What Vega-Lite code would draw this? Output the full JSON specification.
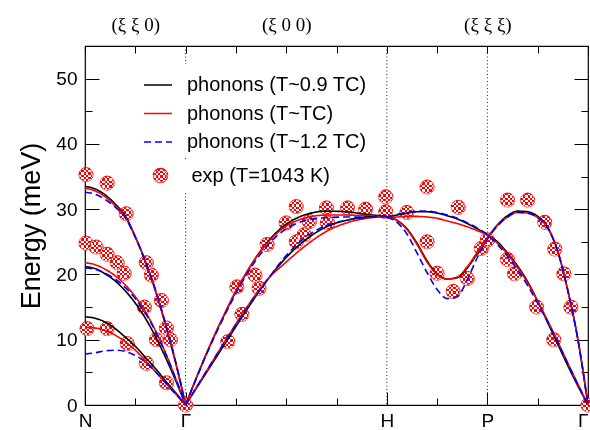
{
"$schema":"https://vega.github.io/schema/vega-lite/v6.json",
"width":503,"height":359,
"autosize":{"type":"none"},
"padding":{"left":85,"top":46,"right":2,"bottom":25},
"background":"white",
"config":{
 "view":{"stroke":"black","strokeWidth":1.2},
 "axis":{"domain":false,"grid":false,"tickColor":"black","tickWidth":1,"labelColor":"black","labelFont":"Liberation Sans","labelFontSize":19,"labelFlush":false,"labelOverlap":false,"titleFont":"Liberation Sans","titleColor":"black"},
 "legend":{"labelFont":"Liberation Sans","labelFontSize":20,"labelColor":"black","labelLimit":400}
},
"resolve":{"scale":{"shape":"independent"},"legend":{"shape":"independent"}},
"datasets":{
"marks":[{"u":1},{"u":3},{"u":4}],
"curves":[
{"br":"NG1","u":0,"k":33.5,"r":33.2,"b":32.6},
{"br":"NG1","u":0.1,"k":33.1,"r":32.8,"b":32.3},
{"br":"NG1","u":0.2,"k":32.2,"r":31.9,"b":31.5},
{"br":"NG1","u":0.3,"k":30.8,"r":30.5,"b":30.3},
{"br":"NG1","u":0.4,"k":29.0,"r":28.8,"b":28.7},
{"br":"NG1","u":0.5,"k":25.8,"r":25.7,"b":25.7},
{"br":"NG1","u":0.6,"k":22.0,"r":22.0,"b":22.0},
{"br":"NG1","u":0.7,"k":17.5,"r":17.6,"b":17.7},
{"br":"NG1","u":0.8,"k":12.3,"r":12.4,"b":12.5},
{"br":"NG1","u":0.9,"k":6.5,"r":6.6,"b":6.7},
{"br":"NG1","u":1,"k":0,"r":0,"b":0},
{"br":"NG2","u":0,"k":21.2,"r":21.8,"b":21.0},
{"br":"NG2","u":0.1,"k":20.9,"r":21.5,"b":20.8},
{"br":"NG2","u":0.2,"k":20.1,"r":20.8,"b":20.2},
{"br":"NG2","u":0.3,"k":19.0,"r":19.8,"b":19.3},
{"br":"NG2","u":0.4,"k":17.5,"r":18.4,"b":18.0},
{"br":"NG2","u":0.5,"k":15.6,"r":16.6,"b":16.3},
{"br":"NG2","u":0.6,"k":13.3,"r":14.3,"b":14.1},
{"br":"NG2","u":0.7,"k":10.5,"r":11.4,"b":11.3},
{"br":"NG2","u":0.8,"k":7.3,"r":8.0,"b":7.9},
{"br":"NG2","u":0.9,"k":3.8,"r":4.1,"b":4.1},
{"br":"NG2","u":1,"k":0,"r":0,"b":0},
{"br":"NG3","u":0,"k":13.5,"r":11.9,"b":7.8},
{"br":"NG3","u":0.1,"k":13.3,"r":11.8,"b":8.0},
{"br":"NG3","u":0.2,"k":12.7,"r":11.4,"b":8.3},
{"br":"NG3","u":0.3,"k":11.7,"r":10.7,"b":8.4},
{"br":"NG3","u":0.4,"k":10.4,"r":9.7,"b":8.2},
{"br":"NG3","u":0.5,"k":9.0,"r":8.4,"b":7.6},
{"br":"NG3","u":0.6,"k":7.3,"r":6.8,"b":6.6},
{"br":"NG3","u":0.7,"k":5.6,"r":5.1,"b":5.1},
{"br":"NG3","u":0.8,"k":3.7,"r":3.4,"b":3.4},
{"br":"NG3","u":0.9,"k":1.9,"r":1.7,"b":1.7},
{"br":"NG3","u":1,"k":0,"r":0,"b":0},
{"br":"GH1","u":1,"k":0,"r":0,"b":0},
{"br":"GH1","u":1.1,"k":3.9,"r":3.9,"b":3.8},
{"br":"GH1","u":1.2,"k":7.6,"r":7.6,"b":7.5},
{"br":"GH1","u":1.3,"k":11.1,"r":11.1,"b":10.9},
{"br":"GH1","u":1.4,"k":14.3,"r":14.4,"b":14.1},
{"br":"GH1","u":1.5,"k":17.4,"r":17.5,"b":17.1},
{"br":"GH1","u":1.6,"k":20.1,"r":20.2,"b":19.8},
{"br":"GH1","u":1.7,"k":22.6,"r":22.6,"b":22.2},
{"br":"GH1","u":1.8,"k":24.7,"r":24.6,"b":24.2},
{"br":"GH1","u":1.9,"k":26.4,"r":26.2,"b":25.8},
{"br":"GH1","u":2.0,"k":27.7,"r":27.4,"b":27.0},
{"br":"GH1","u":2.1,"k":28.6,"r":28.2,"b":27.8},
{"br":"GH1","u":2.2,"k":29.2,"r":28.7,"b":28.3},
{"br":"GH1","u":2.4,"k":29.7,"r":29.1,"b":28.7},
{"br":"GH1","u":2.6,"k":29.6,"r":29.1,"b":28.8},
{"br":"GH1","u":2.8,"k":29.2,"r":29.0,"b":28.8},
{"br":"GH1","u":3.0,"k":28.9,"r":28.8,"b":28.9},
{"br":"GH2","u":1,"k":0,"r":0,"b":0},
{"br":"GH2","u":1.2,"k":4.8,"r":5.0,"b":5.0},
{"br":"GH2","u":1.4,"k":9.6,"r":10.0,"b":9.9},
{"br":"GH2","u":1.6,"k":14.4,"r":14.8,"b":14.6},
{"br":"GH2","u":1.8,"k":18.9,"r":19.0,"b":18.9},
{"br":"GH2","u":2.0,"k":22.6,"r":21.9,"b":22.9},
{"br":"GH2","u":2.2,"k":25.4,"r":24.5,"b":25.8},
{"br":"GH2","u":2.4,"k":27.3,"r":26.6,"b":27.5},
{"br":"GH2","u":2.6,"k":28.3,"r":27.9,"b":28.3},
{"br":"GH2","u":2.8,"k":28.8,"r":28.6,"b":28.7},
{"br":"GH2","u":3.0,"k":28.9,"r":28.9,"b":28.9},
{"br":"HA","u":3.0,"k":28.8,"r":28.7,"b":28.8},
{"br":"HA","u":3.1,"k":29.1,"r":28.8,"b":29.2},
{"br":"HA","u":3.2,"k":29.4,"r":28.9,"b":29.5},
{"br":"HA","u":3.3,"k":29.6,"r":28.9,"b":29.7},
{"br":"HA","u":3.4,"k":29.6,"r":28.8,"b":29.7},
{"br":"HA","u":3.5,"k":29.4,"r":28.6,"b":29.5},
{"br":"HA","u":3.6,"k":29.0,"r":28.2,"b":29.1},
{"br":"HA","u":3.7,"k":28.5,"r":27.8,"b":28.6},
{"br":"HA","u":3.8,"k":27.8,"r":27.3,"b":27.9},
{"br":"HA","u":3.9,"k":27.0,"r":26.7,"b":27.1},
{"br":"HA","u":4.0,"k":26.1,"r":26.0,"b":26.1},
{"br":"HA","u":4.1,"k":25.0,"r":24.8,"b":24.6},
{"br":"HA","u":4.2,"k":23.3,"r":23.1,"b":22.8},
{"br":"HA","u":4.3,"k":21.3,"r":21.1,"b":20.7},
{"br":"HA","u":4.4,"k":18.9,"r":18.7,"b":18.3},
{"br":"HA","u":4.5,"k":15.9,"r":15.9,"b":15.6},
{"br":"HA","u":4.6,"k":12.6,"r":12.9,"b":12.7},
{"br":"HA","u":4.7,"k":9.3,"r":9.7,"b":9.6},
{"br":"HA","u":4.8,"k":6.0,"r":6.4,"b":6.3},
{"br":"HA","u":4.9,"k":2.9,"r":3.2,"b":3.1},
{"br":"HA","u":5.0,"k":0,"r":0,"b":0},
{"br":"HB","u":3.0,"k":28.8,"r":28.8,"b":28.8},
{"br":"HB","u":3.1,"k":28.3,"r":28.3,"b":28.0},
{"br":"HB","u":3.2,"k":27.0,"r":26.9,"b":26.2},
{"br":"HB","u":3.3,"k":24.8,"r":24.6,"b":23.3},
{"br":"HB","u":3.4,"k":22.1,"r":21.9,"b":20.3},
{"br":"HB","u":3.5,"k":20.1,"r":20.0,"b":17.7},
{"br":"HB","u":3.6,"k":19.3,"r":19.3,"b":16.3},
{"br":"HB","u":3.7,"k":19.5,"r":19.6,"b":16.6},
{"br":"HB","u":3.8,"k":21.0,"r":21.2,"b":19.2},
{"br":"HB","u":3.9,"k":23.2,"r":23.4,"b":22.6},
{"br":"HB","u":4.0,"k":25.6,"r":25.6,"b":25.4},
{"br":"HB","u":4.1,"k":27.6,"r":27.5,"b":27.4},
{"br":"HB","u":4.2,"k":29.0,"r":28.8,"b":28.8},
{"br":"HB","u":4.3,"k":29.7,"r":29.5,"b":29.5},
{"br":"HB","u":4.4,"k":29.6,"r":29.4,"b":29.4},
{"br":"HB","u":4.5,"k":28.9,"r":28.7,"b":28.7},
{"br":"HB","u":4.6,"k":27.2,"r":27.1,"b":27.1},
{"br":"HB","u":4.7,"k":23.5,"r":23.5,"b":23.5},
{"br":"HB","u":4.8,"k":17.5,"r":17.5,"b":17.5},
{"br":"HB","u":4.9,"k":10.0,"r":10.0,"b":10.0},
{"br":"HB","u":5.0,"k":0,"r":0,"b":0}
],
"exp":[
{"u":0.01,"e":35.3,"lab":"exp (T=1043 K)"},
{"u":0.22,"e":34.0,"lab":"exp (T=1043 K)"},
{"u":0.41,"e":29.3,"lab":"exp (T=1043 K)"},
{"u":0.01,"e":24.8,"lab":"exp (T=1043 K)"},
{"u":0.11,"e":24.2,"lab":"exp (T=1043 K)"},
{"u":0.22,"e":23.1,"lab":"exp (T=1043 K)"},
{"u":0.32,"e":21.8,"lab":"exp (T=1043 K)"},
{"u":0.39,"e":20.2,"lab":"exp (T=1043 K)"},
{"u":0.61,"e":21.8,"lab":"exp (T=1043 K)"},
{"u":0.66,"e":19.9,"lab":"exp (T=1043 K)"},
{"u":0.76,"e":16.0,"lab":"exp (T=1043 K)"},
{"u":0.59,"e":15.0,"lab":"exp (T=1043 K)"},
{"u":0.81,"e":11.8,"lab":"exp (T=1043 K)"},
{"u":0.71,"e":10.0,"lab":"exp (T=1043 K)"},
{"u":0.85,"e":10.0,"lab":"exp (T=1043 K)"},
{"u":0.02,"e":11.7,"lab":"exp (T=1043 K)"},
{"u":0.22,"e":11.7,"lab":"exp (T=1043 K)"},
{"u":0.42,"e":9.4,"lab":"exp (T=1043 K)"},
{"u":0.61,"e":6.4,"lab":"exp (T=1043 K)"},
{"u":0.81,"e":3.4,"lab":"exp (T=1043 K)"},
{"u":1.0,"e":0,"lab":"exp (T=1043 K)"},
{"u":1.42,"e":9.7,"lab":"exp (T=1043 K)"},
{"u":1.51,"e":18.1,"lab":"exp (T=1043 K)"},
{"u":1.56,"e":13.9,"lab":"exp (T=1043 K)"},
{"u":1.69,"e":19.9,"lab":"exp (T=1043 K)"},
{"u":1.73,"e":17.9,"lab":"exp (T=1043 K)"},
{"u":1.81,"e":24.6,"lab":"exp (T=1043 K)"},
{"u":2.0,"e":27.9,"lab":"exp (T=1043 K)"},
{"u":2.1,"e":30.4,"lab":"exp (T=1043 K)"},
{"u":2.1,"e":25.0,"lab":"exp (T=1043 K)"},
{"u":2.18,"e":26.1,"lab":"exp (T=1043 K)"},
{"u":2.23,"e":28.1,"lab":"exp (T=1043 K)"},
{"u":2.4,"e":30.2,"lab":"exp (T=1043 K)"},
{"u":2.41,"e":27.9,"lab":"exp (T=1043 K)"},
{"u":2.61,"e":30.2,"lab":"exp (T=1043 K)"},
{"u":2.79,"e":30.0,"lab":"exp (T=1043 K)"},
{"u":2.99,"e":31.9,"lab":"exp (T=1043 K)"},
{"u":2.99,"e":29.6,"lab":"exp (T=1043 K)"},
{"u":3.2,"e":29.5,"lab":"exp (T=1043 K)"},
{"u":3.4,"e":33.4,"lab":"exp (T=1043 K)"},
{"u":3.71,"e":30.3,"lab":"exp (T=1043 K)"},
{"u":3.4,"e":25.0,"lab":"exp (T=1043 K)"},
{"u":3.5,"e":20.2,"lab":"exp (T=1043 K)"},
{"u":3.66,"e":17.4,"lab":"exp (T=1043 K)"},
{"u":3.8,"e":19.4,"lab":"exp (T=1043 K)"},
{"u":3.94,"e":24.0,"lab":"exp (T=1043 K)"},
{"u":4.0,"e":25.3,"lab":"exp (T=1043 K)"},
{"u":4.2,"e":31.4,"lab":"exp (T=1043 K)"},
{"u":4.4,"e":31.4,"lab":"exp (T=1043 K)"},
{"u":4.57,"e":28.0,"lab":"exp (T=1043 K)"},
{"u":4.67,"e":23.9,"lab":"exp (T=1043 K)"},
{"u":4.76,"e":20.1,"lab":"exp (T=1043 K)"},
{"u":4.83,"e":15.0,"lab":"exp (T=1043 K)"},
{"u":4.2,"e":22.3,"lab":"exp (T=1043 K)"},
{"u":4.27,"e":20.1,"lab":"exp (T=1043 K)"},
{"u":4.49,"e":15.0,"lab":"exp (T=1043 K)"},
{"u":4.66,"e":10.0,"lab":"exp (T=1043 K)"},
{"u":5.0,"e":0,"lab":"exp (T=1043 K)"}
]
},
"layer":[
{"data":{"name":"marks"},
 "mark":{"type":"rule","color":"#222222","strokeWidth":1,"strokeDash":[1,2.5]},
 "encoding":{"x":{"field":"u","type":"quantitative","scale":{"domain":[0,5],"nice":false,"zero":false},
   "axis":{"orient":"bottom","title":null,"values":[0,0.5,1,1.5,2,2.5,3,3.5,4,4.5,5],
     "labelExpr":"datum.value==0?'N':datum.value==1?'Γ':datum.value==3?'H':datum.value==4?'P':datum.value==5?'Γ':''",
     "labelAlign":{"condition":{"test":"datum.value==5","value":"right"},"value":"center"},
     "tickSize":{"condition":{"test":"indexof([0,1,3,4,5],datum.value)>=0","value":-13},"value":-7},
     "labelPadding":19}}}},
{"data":{"name":"exp"},
 "mark":{"type":"point","filled":true,"size":196,"opacity":1,"stroke":"#ff0000","strokeWidth":1,
   "fill":{"gradient":"linear","x1":0,"y1":0,"x2":1,"y2":0,"stops":[{"offset":0,"color":"#ff0000"},{"offset":0.1667,"color":"#ff0000"},{"offset":0.1667,"color":"#ffffff"},{"offset":0.3333,"color":"#ffffff"},{"offset":0.3333,"color":"#ff0000"},{"offset":0.5,"color":"#ff0000"},{"offset":0.5,"color":"#ffffff"},{"offset":0.6667,"color":"#ffffff"},{"offset":0.6667,"color":"#ff0000"},{"offset":0.8333,"color":"#ff0000"},{"offset":0.8333,"color":"#ffffff"},{"offset":1,"color":"#ffffff"}]}},
 "encoding":{
   "x":{"field":"u","type":"quantitative","scale":{"domain":[0,5],"nice":false,"zero":false},
     "axis":{"orient":"top","title":null,"values":[0,0.5,1,1.5,2,2.5,3,3.5,4,4.5,5],
       "labelExpr":"datum.value==0.5?'(ξ ξ 0)':datum.value==2?'(ξ 0 0)':datum.value==4?'(ξ ξ ξ)':''",
       "labelFont":"Liberation Serif","labelFontSize":19,"tickSize":-7,"labelPadding":19}},
   "y":{"field":"e","type":"quantitative","scale":{"domain":[0,55],"nice":false,"zero":true},
     "axis":{"orient":"left","title":"Energy (meV)","titleFontSize":27,"titleFontWeight":"normal","titlePadding":10,
       "values":[0,5,10,15,20,25,30,35,40,45,50],
       "labelExpr":"datum.value%10==0?datum.label:''",
       "tickSize":{"condition":{"test":"datum.value%10==0","value":-14},"value":-7},
       "labelPadding":22}},
   "shape":{"field":"lab","type":"nominal","scale":{"range":["circle"]},
     "legend":{"orient":"none","legendX":59.5,"legendY":113.5,"title":null,"symbolSize":196,"labelOffset":21,"padding":6,"fillColor":"white"}}
 }},
{"data":{"name":"exp"},
 "mark":{"type":"point","filled":true,"size":196,"opacity":1,"strokeWidth":0,"blend":"difference",
   "fill":{"gradient":"linear","x1":0,"y1":0,"x2":0,"y2":1,"stops":[{"offset":0,"color":"#000000"},{"offset":0.1667,"color":"#000000"},{"offset":0.1667,"color":"#00ffff"},{"offset":0.3333,"color":"#00ffff"},{"offset":0.3333,"color":"#000000"},{"offset":0.5,"color":"#000000"},{"offset":0.5,"color":"#00ffff"},{"offset":0.6667,"color":"#00ffff"},{"offset":0.6667,"color":"#000000"},{"offset":0.8333,"color":"#000000"},{"offset":0.8333,"color":"#00ffff"},{"offset":1,"color":"#00ffff"}]}},
 "encoding":{
   "x":{"field":"u","type":"quantitative","axis":null},
   "y":{"field":"e","type":"quantitative","axis":null},
   "shape":{"field":"lab","type":"nominal","scale":{"range":["circle"]},
     "legend":{"orient":"none","legendX":59.5,"legendY":113.5,"title":null,"symbolSize":196,"labelOffset":21,"padding":6,"labelOpacity":0,"symbolStrokeWidth":0,
       "encoding":{"symbols":{"blend":{"value":"difference"}}}}}
 }},
{"data":{"name":"curves"},
 "transform":[{"fold":["k","r","b"],"as":["m","e"]}],
 "mark":{"type":"line","strokeWidth":1.6,"interpolate":"monotone"},
 "encoding":{
   "x":{"field":"u","type":"quantitative","axis":null},
   "y":{"field":"e","type":"quantitative",
     "axis":{"orient":"right","title":null,"labels":false,"values":[0,5,10,15,20,25,30,35,40,45,50],
       "tickSize":{"condition":{"test":"datum.value%10==0","value":-14},"value":-7}}},
   "color":{"field":"m","type":"nominal","scale":{"domain":["k","r","b"],"range":["#000000","#ff0000","#0000ff"]},
     "legend":{"orient":"none","legendX":52,"legendY":18,"title":null,"symbolType":"stroke","symbolSize":784,"symbolStrokeWidth":1.6,"labelOffset":14,"padding":6,"fillColor":"white","rowPadding":3.5,
       "labelExpr":"datum.label=='k'?'phonons (T~0.9 TC)':datum.label=='r'?'phonons (T~TC)':'phonons (T~1.2 TC)'"}},
   "strokeDash":{"field":"m","type":"nominal","scale":{"domain":["k","r","b"],"range":[[1,0],[1,0],[7,4]]},
     "legend":{"orient":"none","legendX":52,"legendY":18,"title":null,"symbolType":"stroke","symbolSize":784,"symbolStrokeWidth":1.6,"labelOffset":14,"padding":6,"fillColor":"white","rowPadding":3.5,
       "labelExpr":"datum.label=='k'?'phonons (T~0.9 TC)':datum.label=='r'?'phonons (T~TC)':'phonons (T~1.2 TC)'"}},
   "detail":{"field":"br","type":"nominal"}
 }}
]
}
